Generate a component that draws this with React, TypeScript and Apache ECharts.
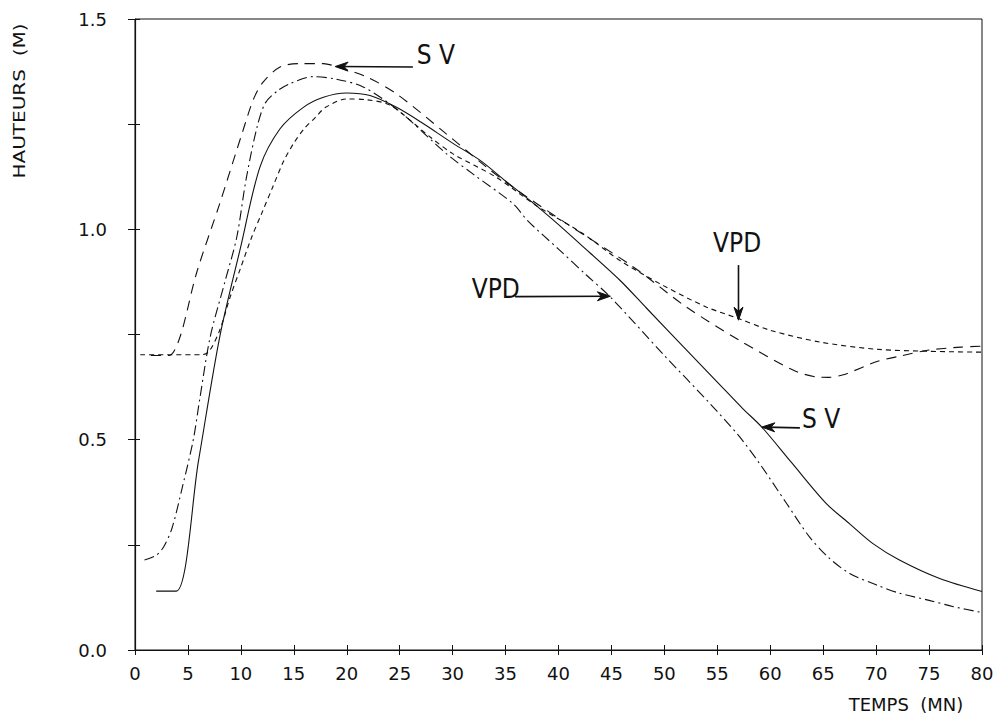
import React, { useEffect, useRef } from "react";
import * as echarts from "echarts";

// ---- Data (temps en minutes, hauteurs en mètres) ----
const svMesT = [2, 3.9, 6, 8, 10, 11.8, 13.7, 15.9, 17.8, 20, 22.2, 24.7, 27, 30, 32.6, 35, 37.3, 39.6, 42, 45.8, 48.3, 52.1, 55, 57.4, 59.2, 62, 65.3, 67.5, 69.7, 72.2, 76, 80];
const svMesH = [0.14, 0.14, 0.45, 0.744, 0.96, 1.148, 1.239, 1.29, 1.314, 1.324, 1.318, 1.29, 1.255, 1.205, 1.164, 1.115, 1.069, 1.02, 0.966, 0.879, 0.813, 0.713, 0.637, 0.574, 0.53, 0.446, 0.348, 0.3, 0.253, 0.214, 0.17, 0.139];

const vpdCalT = [0.9, 2, 2.7, 3.5, 4.5, 5.5, 6.1, 7.1, 8.5, 9.6, 10.5, 11.5, 12.3, 13.5, 14.6, 16.8, 19, 21.6, 25, 29.4, 32, 35.7, 37.1, 40, 42.6, 44.9, 50, 54.3, 57, 59, 61.5, 63.7, 65.5, 67.5, 70, 72.2, 75, 77.3, 80];
const vpdCalH = [0.214, 0.225, 0.245, 0.29, 0.39, 0.499, 0.594, 0.744, 0.876, 0.98, 1.12, 1.24, 1.3, 1.33, 1.346, 1.363, 1.357, 1.338, 1.28, 1.18, 1.13, 1.061, 1.02, 0.953, 0.892, 0.839, 0.7, 0.586, 0.51, 0.443, 0.35, 0.269, 0.22, 0.182, 0.155, 0.135, 0.118, 0.103, 0.089];

const svCalT = [1.5, 3.2, 4.25, 5.8, 8, 10.2, 11.2, 12.1, 13.7, 15.6, 17.8, 19, 21.9, 24.7, 29.4, 33.2, 35.7, 40.8, 47.1, 52.1, 57.1, 62.2, 64.4, 65.5, 67, 70, 72.5, 75, 78, 80];
const svCalH = [0.7, 0.7, 0.744, 0.895, 1.061, 1.235, 1.31, 1.35, 1.386, 1.394, 1.394, 1.387, 1.362, 1.322, 1.227, 1.148, 1.1, 1.013, 0.91, 0.815, 0.736, 0.665, 0.649, 0.648, 0.655, 0.685, 0.7, 0.713, 0.72, 0.722];

const vpdMesT = [0.5, 6.3, 7, 8, 9, 10, 11, 12, 13, 14, 15, 16, 17, 18, 20, 21.9, 24.1, 27.9, 30, 34.1, 38, 42.3, 45.8, 50, 54, 57, 60, 64.7, 70, 75, 80];
const vpdMesH = [0.702, 0.702, 0.71, 0.76, 0.84, 0.91, 0.98, 1.04, 1.1, 1.16, 1.205, 1.24, 1.265, 1.29, 1.31, 1.308, 1.295, 1.219, 1.18, 1.124, 1.055, 0.99, 0.926, 0.865, 0.815, 0.788, 0.76, 0.732, 0.715, 0.71, 0.708];

// ---- Annotations (data coordinates) ----
const annLabels = ["S V", "S V", "VPD", "VPD"];
const annTextPos = [[26.6, 1.414], [63.0, 0.549], [31.8, 0.858], [54.6, 0.967]];
const annArrowFrom = [[26.25, 1.386], [62.8, 0.528], [35.9, 0.84], [57.0, 0.915]];
const annArrowTo = [[18.9, 1.387], [59.2, 0.53], [44.9, 0.841], [57.0, 0.784]];

const X_MIN = 0, X_MAX = 80, X_STEP = 5;
const Y_MIN = 0, Y_MAX = 1.5, Y_STEP = 0.25;

const zip = (t: number[], h: number[]) => t.map((v, i) => [v, h[i]]);

export default function App() {
  const ref = useRef<HTMLDivElement>(null);
  useEffect(() => {
    document.body.style.margin = "0";
    const chart = echarts.init(ref.current!, null, { renderer: "svg" });
    const ink = "#111";
    const tickFont = { fontFamily: "DejaVu Sans", fontSize: 18, color: ink };
    const mkLine = (name: string, data: number[][], type: any) => ({
      name,
      type: "line",
      data,
      showSymbol: false,
      symbol: "none",
      smooth: 0.3,
      xAxisIndex: 0,
      yAxisIndex: 0,
      lineStyle: { color: ink, width: 1.1, type },
    });
    const option: any = {
      animation: false,
      backgroundColor: "#fff",
      grid: {
        left: 135,
        right: 20,
        top: 19,
        bottom: 63,
        show: true,
        borderColor: ink,
        borderWidth: 1,
        backgroundColor: "transparent",
      },
      xAxis: [
        {
          type: "value",
          min: X_MIN,
          max: X_MAX,
          interval: X_STEP,
          axisLine: { show: true, lineStyle: { color: ink, width: 1.2 } },
          axisTick: { show: true, length: 5, lineStyle: { color: ink } },
          axisLabel: { ...tickFont, margin: 14 },
          splitLine: { show: false },
        },
        {
          type: "value",
          position: "bottom",
          offset: 0,
          min: X_MIN,
          max: X_MAX,
          interval: X_STEP,
          axisLine: { show: true, lineStyle: { color: ink, opacity: 0 } },
          axisTick: { show: true, inside: true, length: 5, lineStyle: { color: ink, width: 1 } },
          axisLabel: { show: false },
          splitLine: { show: false },
        },
      ],
      yAxis: [
        {
          type: "value",
          min: Y_MIN,
          max: Y_MAX,
          interval: Y_STEP,
          axisLine: { show: true, lineStyle: { color: ink, width: 1.2 } },
          axisTick: { show: true, length: 7, lineStyle: { color: ink } },
          axisLabel: {
            ...tickFont,
            margin: 28,
            formatter: (v: number) => (Math.abs(v / 0.5 - Math.round(v / 0.5)) < 1e-6 ? v.toFixed(1) : ""),
          },
          splitLine: { show: false },
        },
        {
          type: "value",
          position: "left",
          offset: 0,
          min: Y_MIN,
          max: Y_MAX,
          interval: Y_STEP,
          axisLine: { show: true, lineStyle: { color: ink, opacity: 0 } },
          axisTick: { show: true, inside: true, length: 5, lineStyle: { color: ink, width: 1 } },
          axisLabel: { show: false },
          splitLine: { show: false },
        },
      ],
      series: [
        mkLine("SV mesuré", zip(svMesT, svMesH), "solid"),
        mkLine("VPD calculé", zip(vpdCalT, vpdCalH), [10, 4, 2, 4]),
        mkLine("SV calculé", zip(svCalT, svCalH), [10, 7]),
        mkLine("VPD mesuré", zip(vpdMesT, vpdMesH), [5, 4]),
      ],
    };
    chart.setOption(option);

    const px = (p: number[]) => chart.convertToPixel({ gridIndex: 0 }, p) as number[];
    const graphics: any[] = [
      {
        type: "text",
        x: 19,
        y: 101,
        rotation: Math.PI / 2,
        scaleX: 1.25,
        style: {
          text: "HAUTEURS  (M)",
          fontFamily: "DejaVu Sans",
          fontSize: 16,
          fill: ink,
          align: "center",
          verticalAlign: "middle",
        },
      },
      {
        type: "text",
        x: 906,
        y: 704,
        style: {
          text: "TEMPS  (MN)",
          fontFamily: "DejaVu Sans",
          fontSize: 18,
          fill: ink,
          align: "center",
          verticalAlign: "middle",
        },
      },
    ];
    annLabels.forEach((lab, i) => {
      const tp = px(annTextPos[i]);
      graphics.push({
        type: "text",
        x: tp[0],
        y: tp[1],
        style: {
          text: lab,
          fontFamily: "'Liberation Sans Narrow', 'DejaVu Sans Condensed', 'Liberation Sans'",
          fontSize: 26,
          fill: ink,
          align: "left",
          verticalAlign: "middle",
        },
      });
      const a = px(annArrowFrom[i]);
      const b = px(annArrowTo[i]);
      const dx = b[0] - a[0], dy = b[1] - a[1];
      const len = Math.sqrt(dx * dx + dy * dy) || 1;
      const ux = dx / len, uy = dy / len;
      const nx = -uy, ny = ux;
      const L = 13, W = 4.5;
      graphics.push({
        type: "line",
        shape: { x1: a[0], y1: a[1], x2: b[0] - ux * 4, y2: b[1] - uy * 4 },
        style: { stroke: ink, lineWidth: 1.6 },
      });
      graphics.push({
        type: "polygon",
        shape: {
          points: [
            [b[0], b[1]],
            [b[0] - ux * L + nx * W, b[1] - uy * L + ny * W],
            [b[0] - ux * (L - 4), b[1] - uy * (L - 4)],
            [b[0] - ux * L - nx * W, b[1] - uy * L - ny * W],
          ],
        },
        style: { fill: ink, stroke: ink, lineWidth: 1 },
      });
    });
    chart.setOption({ graphic: graphics });
    return () => chart.dispose();
  }, []);
  return (
    <div
      ref={ref}
      style={{ position: "absolute", left: 0, top: 0, width: 1002, height: 713, background: "#fff" }}
    />
  );
}
